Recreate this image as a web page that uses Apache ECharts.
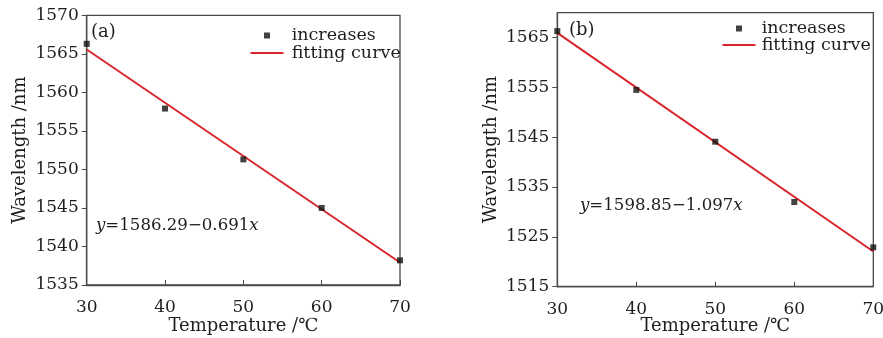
<!DOCTYPE html>
<html>
<head>
<meta charset="utf-8">
<script src="https://cdn.jsdelivr.net/npm/echarts@6/dist/echarts.min.js"></script>
<style>
html,body{margin:0;padding:0;background:#fff;}
#c{width:883px;height:338px;}
</style>
</head>
<body>
<div id="c"></div>
<script>
// ---- data ----
var temps = [30, 40, 50, 60, 70];
var xTicks = [30, 40, 50, 60, 70];
var wavelengthA = [1566.3, 1557.9, 1551.3, 1545.0, 1538.2];
var wavelengthB = [1566.3, 1554.5, 1544.1, 1532.0, 1522.9];
var fitXA = [30, 70];
var fitYA = [1565.56, 1537.92];
var fitXB = [30, 70];
var fitYB = [1565.94, 1522.06];
var yTicksA = [1535, 1540, 1545, 1550, 1555, 1560, 1565, 1570];
var yTicksB = [1515, 1525, 1535, 1545, 1555, 1565];
var eqA = ['y', '=1586.29\u22120.691', 'x'];
var eqB = ['y', '=1598.85\u22121.097', 'x'];
var seriesNames = ['increases', 'fitting curve'];
var xName = 'Temperature /\u2103';
var yName = 'Wavelength /nm';

function pairs(xs, ys) { return xs.map(function (x, i) { return [x, ys[i]]; }); }

var FONT = 'DejaVu Serif';
var TXT = '#1e1e1e';
var AX = '#4a4a4a';
var RED = '#d8262b';

function plain(v) { return String(v); }

function xAxisCfg(gi, nameGap) {
  return {
    gridIndex: gi, type: 'value', min: 30, max: 70, interval: 10,
    name: xName, nameLocation: 'middle', nameGap: nameGap, nameMoveOverlap: false,
    nameTextStyle: { fontFamily: FONT, fontSize: 18, color: TXT },
    axisLine: { show: true, lineStyle: { color: AX, width: 1.3 } },
    axisTick: { show: true, inside: true, length: 5, lineStyle: { color: AX }, customValues: xTicks },
    axisLabel: { fontFamily: FONT, fontSize: 17, color: TXT, margin: 14, customValues: xTicks, formatter: plain },
    splitLine: { show: false }
  };
}
function yAxisCfg(gi, min, max, ticks, nameGap) {
  return {
    gridIndex: gi, type: 'value', min: min, max: max,
    name: yName, nameLocation: 'middle', nameGap: nameGap, nameMoveOverlap: false,
    nameTextStyle: { fontFamily: FONT, fontSize: 18, color: TXT },
    axisLine: { show: true, lineStyle: { color: AX, width: 1.3 } },
    axisTick: { show: true, inside: false, length: 5, lineStyle: { color: AX }, customValues: ticks },
    axisLabel: { fontFamily: FONT, fontSize: 17, color: TXT, margin: 8, customValues: ticks, formatter: plain },
    splitLine: { show: false }
  };
}
function legendPair(iconLeft, textLeft, topA, topB) {
  return [
    { data: [seriesNames[0]], left: iconLeft - 3, top: topA, itemWidth: 6, itemHeight: 6,
      icon: 'rect', selectedMode: false, padding: 0,
      textStyle: { fontFamily: FONT, fontSize: 17.5, color: TXT, padding: [0, 0, 0, textLeft - iconLeft - 8] } },
    { data: [{ name: seriesNames[1], icon: 'rect' }], left: iconLeft - 16.5, top: topB, itemWidth: 33, itemHeight: 2,
      selectedMode: false, padding: 0,
      textStyle: { fontFamily: FONT, fontSize: 17.5, color: TXT, padding: [0, 0, 0, textLeft - (iconLeft + 16.5 + 5)] } }
  ];
}
function eqText(eq, left, top) {
  return {
    type: 'text', left: left, top: top,
    style: {
      text: '{i|' + eq[0] + '}{n|' + eq[1] + '}{i|' + eq[2] + '}',
      rich: {
        i: { fontFamily: FONT, fontSize: 16.6, fontStyle: 'italic', fill: TXT },
        n: { fontFamily: FONT, fontSize: 16.6, fill: TXT }
      }
    }
  };
}
function labelText(t, left, top) {
  return { type: 'text', left: left, top: top, style: { text: t, fontFamily: FONT, fontSize: 18, fill: TXT } };
}

var legends = legendPair(267, 291.7, 26.5, 44).concat(legendPair(739, 761.7, 19.5, 36));

var chart = echarts.init(document.getElementById('c'), null, { renderer: 'canvas' });
chart.setOption({
  animation: false,
  backgroundColor: '#fff',
  grid: [
    { left: 86.7, right: 483, top: 15.3, bottom: 53, show: true, borderColor: AX, borderWidth: 1.3,
      containLabel: false, outerBoundsMode: 'none' },
    { left: 557.3, right: 9.7, top: 12.7, bottom: 51.3, show: true, borderColor: AX, borderWidth: 1.3,
      containLabel: false, outerBoundsMode: 'none' }
  ],
  xAxis: [xAxisCfg(0, 32), xAxisCfg(1, 30.5)],
  yAxis: [yAxisCfg(0, 1535, 1570, yTicksA, 57), yAxisCfg(1, 1515, 1570, yTicksB, 57)],
  legend: legends,
  series: [
    { name: seriesNames[1], type: 'line', xAxisIndex: 0, yAxisIndex: 0, data: pairs(fitXA, fitYA),
      showSymbol: false, symbol: 'none', lineStyle: { color: RED, width: 2 }, itemStyle: { color: RED }, z: 2 },
    { name: seriesNames[0], type: 'scatter', xAxisIndex: 0, yAxisIndex: 0, data: pairs(temps, wavelengthA),
      symbol: 'rect', symbolSize: 6, itemStyle: { color: '#111' }, z: 3 },
    { name: seriesNames[1], type: 'line', xAxisIndex: 1, yAxisIndex: 1, data: pairs(fitXB, fitYB),
      showSymbol: false, symbol: 'none', lineStyle: { color: RED, width: 2 }, itemStyle: { color: RED }, z: 2 },
    { name: seriesNames[0], type: 'scatter', xAxisIndex: 1, yAxisIndex: 1, data: pairs(temps, wavelengthB),
      symbol: 'rect', symbolSize: 6, itemStyle: { color: '#111' }, z: 3 }
  ],
  graphic: [
    labelText('(a)', 91, 23),
    labelText('(b)', 569, 21),
    eqText(eqA, 96, 217),
    eqText(eqB, 580, 197)
  ]
});
</script>
</body>
</html>
